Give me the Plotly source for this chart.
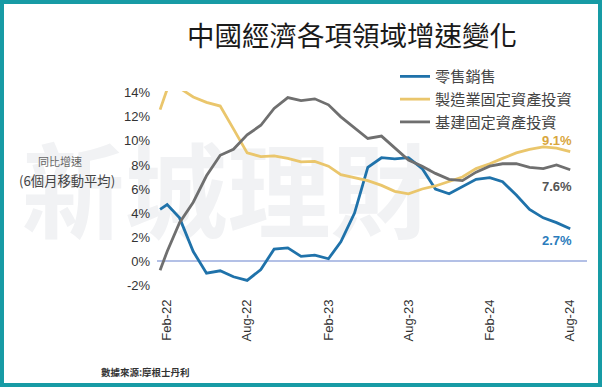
import pandas as pd
import plotly.graph_objects as go

# ---- data ----
dates = ["2022-01-16"] + [d.strftime("%Y-%m-%d") for d in pd.date_range("2022-02-01", "2024-08-01", freq="MS")]

retail = [4.3, 4.7, 3.6, 0.8, -1.0, -0.8, -1.3, -1.6, -0.7, 1.0, 1.1, 0.4, 0.5, 0.2, 1.6, 4.0,
          7.8, 8.6, 8.5, 8.6, 7.7, 6.0, 5.6, 6.2, 6.8, 6.95, 6.6, 5.5, 4.3, 3.6, 3.2, 2.7]
manufacturing = [12.6, 14.3, 14.4, 13.65, 13.2, 12.9, 11.0, 9.0, 8.7, 8.75, 8.55, 8.25, 8.3, 7.9, 7.2, 6.95,
                 6.7, 6.3, 5.8, 5.6, 6.0, 6.25, 6.6, 7.0, 7.7, 8.1, 8.55, 9.0, 9.3, 9.5, 9.4, 9.1]
infrastructure = [-0.75, 0.8, 3.2, 4.9, 7.1, 8.8, 9.3, 10.5, 11.3, 12.7, 13.6, 13.35, 13.5, 13.0, 12.0, 11.1,
                  10.2, 10.4, 9.4, 8.4, 7.9, 7.3, 6.8, 6.7, 7.4, 7.9, 8.1, 8.1, 7.8, 7.7, 8.0, 7.6]

series_names = ["零售銷售", "製造業固定資產投資", "基建固定資產投資"]
series_values = [retail, manufacturing, infrastructure]
line_colors = ["#1f72aa", "#eac66c", "#6f6f6f"]
label_colors = ["#2b7cbc", "#d9a63c", "#555555"]

tick_dates = ["2022-02-01", "2022-08-01", "2023-02-01", "2023-08-01", "2024-02-01", "2024-08-01"]
tick_text = ["Feb-22", "Aug-22", "Feb-23", "Aug-23", "Feb-24", "Aug-24"]
y_ticks = [-2, 0, 2, 4, 6, 8, 10, 12, 14]

title_text = "中國經濟各項領域增速變化"
source_text = "數據來源:摩根士丹利"

CJK = "Noto Sans CJK TC, Noto Sans CJK SC, sans-serif"
LAT = "Liberation Sans, Arial, sans-serif"

fig = go.Figure()
for name, vals, col in zip(series_names, series_values, line_colors):
    fig.add_trace(go.Scatter(x=dates, y=vals, name=name, mode="lines",
                             line=dict(color=col, width=2.8), hoverinfo="skip"))

# end-point labels
label_specs = [(retail, label_colors[0], "top", -2),
               (manufacturing, label_colors[1], "bottom", 2),
               (infrastructure, label_colors[2], "top", -7)]
for vals, col, yanc, ysh in label_specs:
    fig.add_annotation(x=dates[-1], y=vals[-1], text=f"<b>{vals[-1]:.1f}%</b>",
                       showarrow=False, xanchor="right", yanchor=yanc, xshift=4, yshift=ysh,
                       font=dict(family=LAT, size=13, color=col))

W, H = 602, 387
L, R, T, B = 157, 15, 91, 97
pw, ph = W - L - R, H - T - B

def px_x(p):
    return (p - L) / pw

def px_y(p):
    return (H - B - p) / ph

# watermark (below traces)
fig.add_shape(type="rect", xref="paper", yref="paper", layer="below",
              x0=px_x(30), x1=px_x(425), y0=px_y(262), y1=px_y(142),
              line=dict(width=0), fillcolor="rgba(0,0,0,0)",
              label=dict(text="<b>新城理財</b>", textposition="middle center",
                         font=dict(family=CJK, size=103, color="#f1f2f4")))

# frame
fig.add_shape(type="rect", xref="paper", yref="paper", layer="above",
              x0=px_x(2), x1=px_x(W - 2), y0=px_y(H - 2), y1=px_y(2),
              line=dict(color="#179ba5", width=4), fillcolor="rgba(0,0,0,0)")

# title
fig.add_annotation(xref="paper", yref="paper", x=px_x(352), y=px_y(34), text=title_text,
                   showarrow=False, xanchor="center", yanchor="middle",
                   font=dict(family=CJK, size=27.5, color="#1a1a1a"))
# y-axis title
fig.add_annotation(xref="paper", yref="paper", x=px_x(60), y=px_y(161), text="同比增速",
                   showarrow=False, xanchor="center", yanchor="middle",
                   font=dict(family=CJK, size=11, color="#666666"))
fig.add_annotation(xref="paper", yref="paper", x=px_x(67), y=px_y(180), text="(6個月移動平均)",
                   showarrow=False, xanchor="center", yanchor="middle",
                   font=dict(family=CJK, size=13.3, color="#444444"))
# source
fig.add_annotation(xref="paper", yref="paper", x=px_x(99), y=px_y(372), text="<b>" + source_text + "</b>",
                   showarrow=False, xanchor="left", yanchor="middle",
                   font=dict(family=CJK, size=9.5, color="#333333"))

fig.update_layout(
    width=W, height=H,
    margin=dict(l=L, r=R, t=T, b=B, autoexpand=False),
    paper_bgcolor="white", plot_bgcolor="rgba(0,0,0,0)",
    showlegend=True,
    legend=dict(x=px_x(395), y=px_y(60), xanchor="left", yanchor="top",
                bgcolor="rgba(0,0,0,0)", font=dict(family=CJK, size=15.2, color="#444444"),
                tracegroupgap=0),
    xaxis=dict(type="date", range=["2022-01-09", "2024-09-08"], tickvals=tick_dates, ticktext=tick_text,
               tickangle=-90, showgrid=False, showline=False, zeroline=False, ticks="",
               tickfont=dict(family=LAT, size=13, color="#333333"), ticklabelstandoff=6),
    yaxis=dict(range=[-2.4, 14.15], tickvals=y_ticks, ticktext=[f"{v}%" for v in y_ticks],
               showgrid=False, showline=False, zeroline=True, zerolinecolor="#b3c0e6", zerolinewidth=1.5,
               ticks="", tickfont=dict(family=LAT, size=13, color="#333333"), ticklabelstandoff=6),
)

fig.write_html("out.html", config={"displayModeBar": False},
               post_script="document.body.style.margin='0';document.body.style.padding='0';")
